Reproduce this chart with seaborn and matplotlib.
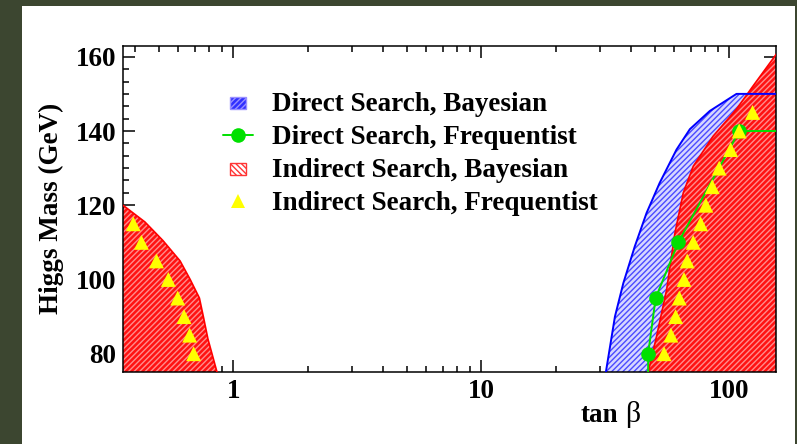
import numpy as np
import pandas as pd
import matplotlib
matplotlib.use('Agg')
import matplotlib.pyplot as plt
import matplotlib.patches as mpatches
from matplotlib.lines import Line2D
from matplotlib.legend_handler import HandlerPatch
from matplotlib.ticker import MultipleLocator, LogLocator, NullFormatter
import seaborn as sns

# direct search, bayesian: left edge of the excluded band
blue_x = [31.8, 34.6, 37.4, 41.6, 46.4, 52.4, 61.3, 69.4, 83.5, 107.0, 1000.0]
blue_y = [75, 90, 99, 108.9, 117.9, 126, 135, 140.5, 145.4, 150, 150]

# indirect search, bayesian: low tan(beta) and high tan(beta) regions
red_lo_x = [0.359, 0.44, 0.52, 0.61, 0.67, 0.73, 0.76, 0.79, 0.86]
red_lo_y = [120, 115.5, 110.5, 105, 100, 95, 89.5, 84, 75]
red_hi_x = [47.1, 50.9, 55.9, 60.4, 65.3, 71.6, 86.1, 107.0, 125.0, 160.0]
red_hi_y = [75, 84.6, 97.2, 112.5, 123.4, 130.5, 138.6, 145.9, 152.2, 162]

# direct search, frequentist
green_x = [47.1, 47.1, 50.5, 62.3, 109.7, 200.0]
green_y = [70, 80, 95, 110, 140, 140]

# indirect search, frequentist
tri_lo_x = [0.692, 0.667, 0.633, 0.597, 0.547, 0.49, 0.426, 0.395]
tri_lo_y = [80, 85, 90, 95, 100, 105, 110, 115]
tri_hi_x = [54.6, 58.2, 60.8, 62.9, 65.7, 67.7, 71.6, 76.7, 80.5, 85.4, 91.1, 101.3, 109.7, 124.2]
tri_hi_y = [80, 85, 90, 95, 100, 105, 110, 115, 120, 125, 130, 135, 140, 145]

y_ticks = [80, 100, 120, 140, 160]
x_ticks = [1, 10, 100]
x_ticklabels = ['1', '10', '100']

sns.set_theme(style='ticks')
plt.rcParams['font.family'] = ['Liberation Serif', 'DejaVu Serif']
plt.rcParams['font.weight'] = 'bold'
plt.rcParams['hatch.linewidth'] = 1.0
for key in ['text.color', 'axes.labelcolor', 'xtick.color', 'ytick.color', 'axes.edgecolor']:
    plt.rcParams[key] = 'black'

fs = 19.5
fig = plt.figure(figsize=(7.97, 4.44), dpi=100, facecolor='#3c4630')
fig.patches.append(mpatches.Rectangle((22 / 797, 0), 773 / 797, 438 / 444,
                                      transform=fig.transFigure, facecolor='white',
                                      edgecolor='none', zorder=-1))
ax = fig.add_axes([0.1543, 0.1628, 0.819, 0.7336])
ax.set_facecolor('white')
ax.set_xscale('log')

ax.fill_betweenx(blue_y, blue_x, 1000, facecolor='#d6d6ff', edgecolor='#4a4aff',
                 hatch='//////', linewidth=0, zorder=1)
ax.fill_betweenx(red_hi_y, red_hi_x, 1000, facecolor='#ff1212', edgecolor='#ff8c8c',
                 hatch='//////', linewidth=0, zorder=2)
ax.fill_betweenx(red_lo_y, 0.1, red_lo_x, facecolor='#ff1212', edgecolor='#ff8c8c',
                 hatch='//////', linewidth=0, zorder=2)
ax.plot(red_hi_x, red_hi_y, color='red', lw=1.2, zorder=3)
ax.plot(red_lo_x, red_lo_y, color='red', lw=1.2, zorder=3)
ax.plot(blue_x, blue_y, color='#0000ff', lw=1.4, zorder=3.5)

sns.lineplot(x=green_x, y=green_y, estimator=None, sort=False, color='#00e000',
             marker='o', markersize=10.5, markeredgewidth=0, lw=1.4, ax=ax, zorder=4)
tri = pd.DataFrame({'x': tri_lo_x + tri_hi_x, 'y': tri_lo_y + tri_hi_y})
sns.scatterplot(data=tri, x='x', y='y', marker='^', s=115, color='#ffff00',
                edgecolor='none', ax=ax, zorder=5)

ax.set_xlim(0.359, 154)
ax.set_ylim(75.15, 162.9)
ax.set_xticks(x_ticks)
ax.set_xticklabels(x_ticklabels)
ax.xaxis.set_minor_locator(LogLocator(base=10, subs=np.arange(2, 10)))
ax.xaxis.set_minor_formatter(NullFormatter())
ax.set_yticks(y_ticks)
ax.yaxis.set_minor_locator(MultipleLocator(10 / 3))
ax.tick_params(which='both', direction='in', top=True, right=True, width=1.1,
               color='black', labelcolor='black', labelsize=fs)
ax.tick_params(which='major', length=8.6, pad=5)
ax.tick_params(which='minor', length=4.3)
for s in ax.spines.values():
    s.set_linewidth(1.1)
    s.set_color('black')

ax.set_xlabel('')
ax.set_ylabel('Higgs Mass (GeV)', fontsize=fs, fontweight='bold', labelpad=8, color='black')
fig.text(618 / 797, 1 - 422 / 444, 'tan', fontsize=fs, fontweight='bold',
         ha='right', va='baseline', color='black')
fig.text(625 / 797, 1 - 422 / 444, 'β', fontsize=fs + 2, fontweight='normal',
         ha='left', va='baseline', color='black')


def small_rect(legend, orig_handle, xdescent, ydescent, width, height, fontsize):
    return mpatches.Rectangle((width * 0.22 - xdescent, -ydescent + height * 0.1),
                              width * 0.56, height * 0.65)


h_blue = mpatches.Patch(facecolor='#3030ff', edgecolor='#9a90ff', hatch='//////', lw=1)
h_green = Line2D([], [], color='#00e000', marker='o', ms=10.5, mew=0, lw=1.4)
h_red = mpatches.Patch(facecolor='white', edgecolor='#ff3535', hatch='\\\\\\\\\\\\', lw=1)
h_yel = Line2D([], [], color='#ffff00', marker='^', ms=10.5, mew=0, ls='none')
labels = ['Direct Search, Bayesian', 'Direct Search, Frequentist',
          'Indirect Search, Bayesian', 'Indirect Search, Frequentist']
leg = fig.legend([h_blue, h_green, h_red, h_yel], labels, loc='upper left',
                 bbox_to_anchor=(223 / 797, 1 - 92 / 444), frameon=False,
                 prop={'family': 'Liberation Serif', 'weight': 'bold', 'size': fs},
                 handlelength=1.1, handletextpad=0.7, labelspacing=0.3,
                 borderpad=0, borderaxespad=0,
                 handler_map={mpatches.Patch: HandlerPatch(patch_func=small_rect)})
for t in leg.get_texts():
    t.set_color('black')

fig.savefig('out.png', dpi=100, facecolor=fig.get_facecolor())
